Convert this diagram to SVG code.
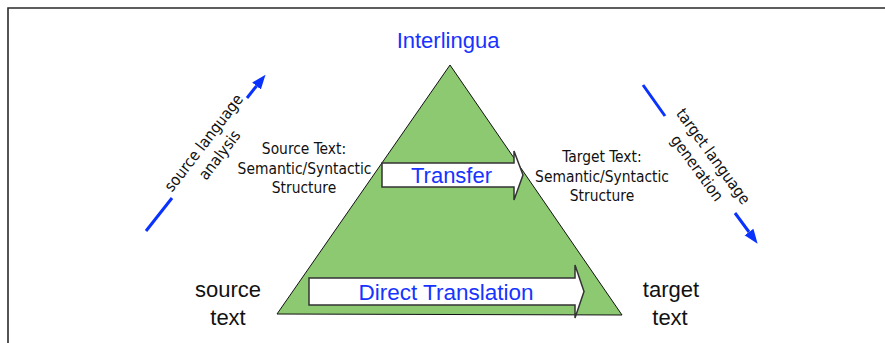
<svg xmlns="http://www.w3.org/2000/svg" width="885" height="343" viewBox="0 0 885 343">
<style>
.frame{fill:none;stroke:#2a2a2a;stroke-width:1.6}
.tri{fill:#8cc971;stroke:#111;stroke-width:1}
.blk{fill:#fff;stroke:#333;stroke-width:1.5;stroke-linejoin:miter}
.big{font-family:"Liberation Sans",Arial,sans-serif;font-size:22px;text-anchor:middle}
.blue{fill:#1633ff}
.blk-t{fill:#111}
.small{font-family:"DejaVu Sans Condensed","DejaVu Sans",sans-serif;font-stretch:condensed;font-size:15.4px;fill:#111;text-anchor:middle}
.flow{stroke:#0a32ff;stroke-width:3;fill:none}
</style>
<defs>
<marker id="ah" markerUnits="userSpaceOnUse" markerWidth="15" markerHeight="12" refX="0" refY="5.5" orient="auto">
<path d="M0,0 L14.5,5.5 L0,11 z" fill="#0a32ff"/>
</marker>
</defs>
<rect width="885" height="343" fill="#fff"/>
<path class="frame" d="M8,343 L8,8 L885,8"/>

<g id="triangle">
<polygon class="tri" points="450,65 622,315 277,314"/>
</g>

<g id="interlingua">
<text class="big blue" x="448" y="48">Interlingua</text>
</g>

<g id="transfer">
<polygon class="blk" points="382,163 514,163 514,151 523,175 514,200 514,187 382,187"/>
<text class="big blue" x="451.5" y="182.5">Transfer</text>
</g>

<g id="direct-translation">
<polygon class="blk" points="309,278 575,278 575,265 584,291.5 575,318 575,305 309,305"/>
<text class="big blue" x="446" y="300" style="font-size:22.5px">Direct Translation</text>
</g>

<g id="source-text">
<text class="big blk-t" x="228" y="297">source</text>
<text class="big blk-t" x="228" y="325">text</text>
</g>

<g id="target-text">
<text class="big blk-t" x="671" y="297">target</text>
<text class="big blk-t" x="670" y="325">text</text>
</g>

<g id="source-structure">
<text class="small" x="304" y="154">Source Text:</text>
<text class="small" x="304.5" y="173.5">Semantic/Syntactic</text>
<text class="small" x="304" y="193">Structure</text>
</g>

<g id="target-structure">
<text class="small" x="602" y="162">Target Text:</text>
<text class="small" x="602" y="181.5">Semantic/Syntactic</text>
<text class="small" x="602" y="201">Structure</text>
</g>

<g id="connectors">
<line class="flow" x1="146" y1="231" x2="172" y2="198"/>
<line class="flow" x1="247" y1="98" x2="256.5" y2="86" marker-end="url(#ah)"/>
<line class="flow" x1="643" y1="85" x2="665" y2="116"/>
<line class="flow" x1="735" y1="213" x2="749" y2="232" marker-end="url(#ah)"/>
</g>

<g id="analysis-label" transform="translate(204,143) rotate(-52.5)">
<text class="small" x="0" y="5" style="font-size:15.8px">source language</text>
<text class="small" x="0" y="25" style="font-size:15.8px">analysis</text>
</g>

<g id="generation-label" transform="translate(713,156.5) rotate(54)">
<text class="small" x="0" y="5" style="font-size:15.8px">target language</text>
<text class="small" x="0" y="25" style="font-size:15.8px">generation</text>
</g>
</svg>
